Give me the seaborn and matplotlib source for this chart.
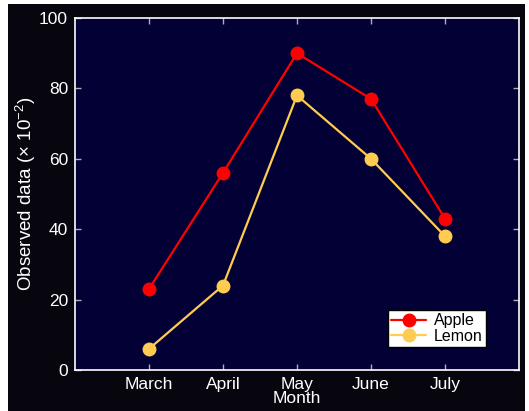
import matplotlib
matplotlib.use("Agg")
import matplotlib.pyplot as plt
from matplotlib.patches import Rectangle
import seaborn as sns
import pandas as pd

months = ["March", "April", "May", "June", "July"]
apple = [23, 56, 90, 77, 43]
lemon = [6, 24, 78, 60, 38]

series_names = ["Apple", "Lemon"]
series_colors = ["#FF0000", "#FFCC50"]

df = pd.DataFrame({
    "Month": months * 2,
    "value": apple + lemon,
    "fruit": ["Apple"] * len(months) + ["Lemon"] * len(months),
})

sns.set_style("ticks")
plt.rcParams["font.family"] = ["Liberation Sans", "DejaVu Sans"]
plt.rcParams["mathtext.fontset"] = "custom"
plt.rcParams["mathtext.rm"] = "Liberation Sans"
plt.rcParams["mathtext.it"] = "Liberation Sans:italic"

fig = plt.figure(figsize=(5.29, 4.11), dpi=100, facecolor="white")
# dark panel behind the axes
panel = Rectangle((8 / 529, 0), (525 - 8) / 529, 407 / 411,
                  transform=fig.transFigure, facecolor="#07060F",
                  edgecolor="none", zorder=-10)
fig.add_artist(panel)
ax = fig.add_axes([75 / 529, 41 / 411, 444 / 529, 352 / 411])
ax.set_facecolor("#020035")

for name, color in zip(series_names, series_colors):
    sub = df[df["fruit"] == name]
    sns.lineplot(data=sub, x="Month", y="value", ax=ax, color=color,
                 marker="o", markersize=9, markeredgecolor=color,
                 markeredgewidth=1, linewidth=1.6, label=name, sort=False)

ax.set_xlim(-1, 5)
ax.set_ylim(0, 100)
ax.set_yticks([0, 20, 40, 60, 80, 100])

for side in ["left", "bottom", "top", "right"]:
    ax.spines[side].set_color("white")
    ax.spines[side].set_linewidth(1.2)

ax.tick_params(axis="both", direction="in", colors="#B0B0B0", labelcolor="white",
               labelsize=12.5, length=4, width=1, top=True, right=True, pad=5)

ax.set_xlabel("Month", color="white", fontsize=12.5, labelpad=-1)
ax.set_ylabel("Observed data (\u00d7 10$^{-2}$)", color="white", fontsize=13.5)
ax.yaxis.set_label_coords(-0.083, 0.5)

leg = ax.legend(loc="lower right", bbox_to_anchor=(0.926, 0.065), borderaxespad=0,
                frameon=True, fancybox=False, fontsize=11.5, handlelength=2.2,
                borderpad=0.2, labelspacing=0.05, handletextpad=0.5)
leg.get_frame().set_facecolor("white")
leg.get_frame().set_edgecolor("black")
leg.get_frame().set_alpha(1)
for t in leg.get_texts():
    t.set_color("black")

fig.savefig("out.png", dpi=100, facecolor=fig.get_facecolor())
